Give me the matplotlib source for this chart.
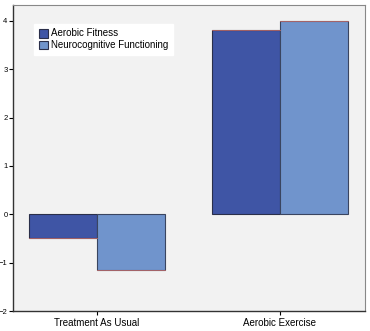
import matplotlib.pyplot as plt
import numpy as np

plt.rcParams['font.family'] = ['Liberation Sans', 'DejaVu Sans']

groups = ['Treatment As Usual', 'Aerobic Exercise']
aerobic_fitness = [-0.49, 3.82]
neurocognitive = [-1.16, 4.00]
series_labels = ['Aerobic Fitness', 'Neurocognitive Functioning']

fig = plt.figure(figsize=(3.7, 3.31), dpi=100)
ax = fig.add_axes([13 / 370, 1 - 311 / 331, 352 / 370, 306 / 331])
ax.set_facecolor('#f2f2f2')

x = np.arange(len(groups))
w = 0.37
b1 = ax.bar(x - w / 2, aerobic_fitness, w, color='#3f55a5', edgecolor='#2a2f4a',
            linewidth=0.8, label=series_labels[0])
b2 = ax.bar(x + w / 2, neurocognitive, w, color='#7094cc', edgecolor='#3a4560',
            linewidth=0.8, label=series_labels[1])

# thin reddish line along the value end of each bar
for bars in (b1, b2):
    for r in bars:
        y = r.get_y() + r.get_height()
        ax.plot([r.get_x(), r.get_x() + r.get_width()], [y, y],
                color='#b86a6a', linewidth=0.6, zorder=3)

ax.set_xlim(-0.46, 1.465)
ax.set_ylim(-2, 4.33)
ax.set_yticks([-2, -1, 0, 1, 2, 3, 4])
ax.set_xticks(x)
ax.set_xticklabels(groups, fontsize=7)
ax.tick_params(axis='y', labelsize=5.5, length=3, width=0.8, pad=1)
ax.tick_params(axis='x', length=3, width=0.8, pad=2)

for s in ['left', 'bottom']:
    ax.spines[s].set_color('#333333')
    ax.spines[s].set_linewidth(1.0)
for s in ['top', 'right']:
    ax.spines[s].set_color('#888888')
    ax.spines[s].set_linewidth(0.8)

leg = ax.legend(loc='upper left', bbox_to_anchor=(0.045, 0.955), fontsize=7,
                frameon=True, fancybox=False, framealpha=1, edgecolor='white',
                handlelength=1.0, handleheight=1.0, handletextpad=0.3,
                borderpad=0.5, labelspacing=0.2)
for h in leg.legend_handles:
    h.set_edgecolor('#2a2f4a')

fig.savefig('out.png', dpi=100)
